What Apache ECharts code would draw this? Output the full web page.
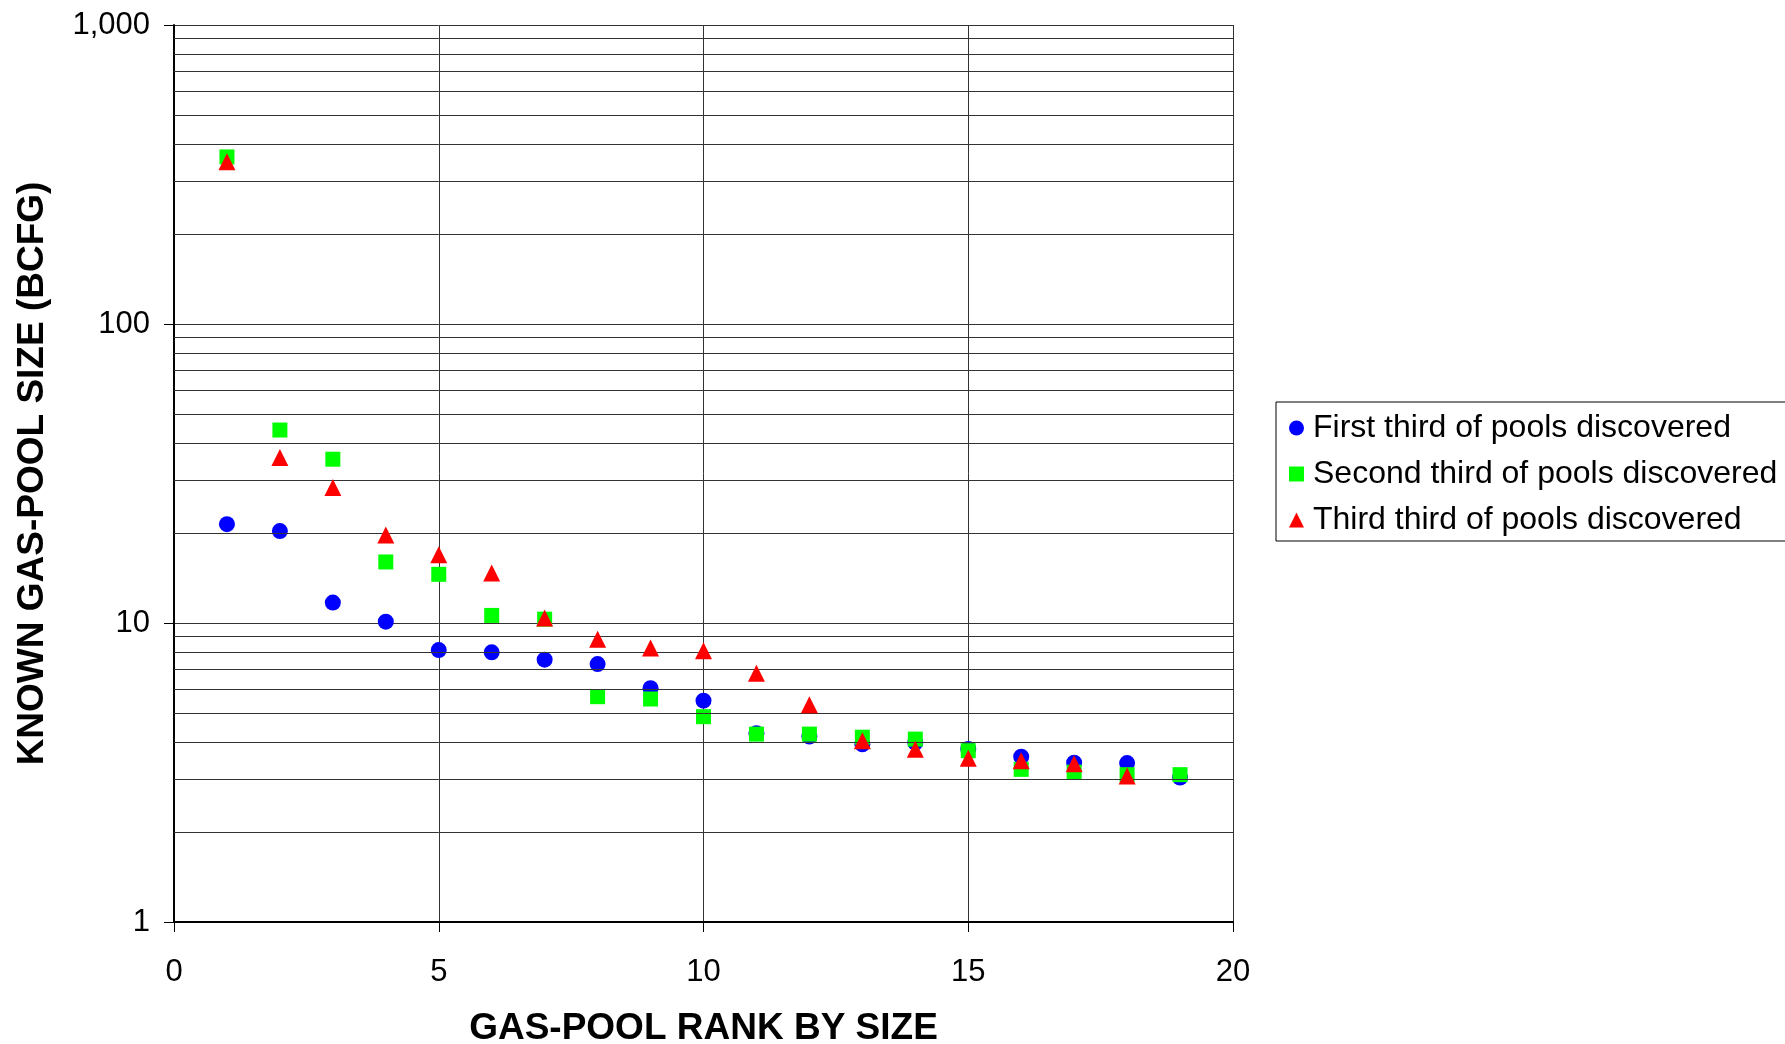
<!DOCTYPE html>
<html>
<head>
<meta charset="utf-8">
<script src="https://cdn.jsdelivr.net/npm/echarts@6/dist/echarts.min.js"></script>
<style>
  html, body { margin: 0; padding: 0; background: #fff; }
  #chart { width: 1785px; height: 1044px; }
</style>
</head>
<body>
<div id="chart"></div>
<script>
// rank 1..19
const ranks = [1, 2, 3, 4, 5, 6, 7, 8, 9, 10, 11, 12, 13, 14, 15, 16, 17, 18, 19]

// known gas-pool size, BCFG
const firstThird = [21.4, 20.3, 11.7, 10.1, 8.12, 7.98, 7.54, 7.29, 6.05, 5.5, 4.28, 4.17, 3.93, 3.98, 3.79, 3.57, 3.41, 3.4, 3.04]
const secondThird = [362, 44.2, 35.3, 16.0, 14.55, 10.6, 10.3, 5.67, 5.57, 4.86, 4.25, 4.25, 4.15, 4.09, 3.74, 3.24, 3.17, 3.11, 3.11]
const thirdThird = [349, 35.8, 28.4, 19.7, 16.9, 14.7, 10.4, 8.82, 8.25, 8.08, 6.79, 5.33, 4.04, 3.78, 3.53, 3.46, 3.38, 3.08]

// minor log grid lines
const minorGrid = [2, 3, 4, 5, 6, 7, 8, 9, 20, 30, 40, 50, 60, 70, 80, 90, 200, 300, 400, 500, 600, 700, 800, 900]

const seriesNames = ['First third of pools discovered', 'Second third of pools discovered', 'Third third of pools discovered']

const font = 'Liberation Sans, Arial, sans-serif'
const pts = (vals) => vals.map((v, i) => [ranks[i], v])

const chart = echarts.init(document.getElementById('chart'))

const option = {
  animation: false,
  backgroundColor: '#fff',
  textStyle: { fontFamily: font, color: '#000' },
  grid: { left: 174, top: 25, width: 1059, height: 897, outerBoundsMode: 'none', containLabel: false },
  legend: {
    data: seriesNames,
    orient: 'vertical',
    left: 1276,
    top: 402,
    padding: [10, 40, 5, 13],
    itemWidth: 15,
    itemHeight: 15,
    itemGap: 14,
    borderColor: '#000',
    borderWidth: 1,
    backgroundColor: '#fff',
    textStyle: { fontSize: 32, fontFamily: font, color: '#000', lineHeight: 32, padding: [0, 0, 0, 4] }
  },
  xAxis: {
    type: 'value',
    min: 0,
    max: 20,
    interval: 5,
    name: 'GAS-POOL RANK BY SIZE',
    nameLocation: 'middle',
    nameGap: 88,
    nameTextStyle: { fontSize: 37, fontWeight: 'bold', fontFamily: font, color: '#000' },
    axisLine: { show: true, lineStyle: { color: '#000', width: 2 } },
    axisTick: { show: true, length: 10, lineStyle: { color: '#000' } },
    axisLabel: { fontSize: 31, margin: 35, color: '#000', fontFamily: font },
    splitLine: { show: true, lineStyle: { color: '#333', width: 1 } }
  },
  yAxis: {
    type: 'log',
    logBase: 10,
    min: 1,
    max: 1000,
    interval: 1,
    name: 'KNOWN GAS-POOL SIZE (BCFG)',
    nameLocation: 'middle',
    nameGap: 123,
    nameTextStyle: { fontSize: 37, fontWeight: 'bold', fontFamily: font, color: '#000' },
    axisLine: { show: true, lineStyle: { color: '#000', width: 2 } },
    axisTick: { show: true, length: 10, lineStyle: { color: '#000' } },
    axisLabel: {
      fontSize: 31,
      margin: 24,
      color: '#000',
      fontFamily: font,
      formatter: (v) => Number(v).toLocaleString('en-US')
    },
    splitLine: { show: true, lineStyle: { color: '#333', width: 1 } }
  },
  series: [
    {
      name: 'grid',
      type: 'scatter',
      data: [],
      z: 1,
      silent: true,
      markLine: {
        silent: true,
        symbol: 'none',
        label: { show: false },
        lineStyle: { color: '#333', width: 1, type: 'solid' },
        data: minorGrid.map((v) => ({ yAxis: v }))
      }
    },
    {
      name: seriesNames[0],
      type: 'scatter',
      symbol: 'circle',
      symbolSize: 16,
      z: 3,
      itemStyle: { color: '#0000ff', opacity: 1 },
      data: pts(firstThird)
    },
    {
      name: seriesNames[1],
      type: 'scatter',
      symbol: 'rect',
      symbolSize: 15,
      z: 4,
      itemStyle: { color: '#00ff00', opacity: 1 },
      data: pts(secondThird)
    },
    {
      name: seriesNames[2],
      type: 'scatter',
      symbol: 'triangle',
      symbolSize: 17,
      z: 5,
      itemStyle: { color: '#ff0000', opacity: 1 },
      data: pts(thirdThird)
    }
  ]
}

chart.setOption(option)
</script>
</body>
</html>
